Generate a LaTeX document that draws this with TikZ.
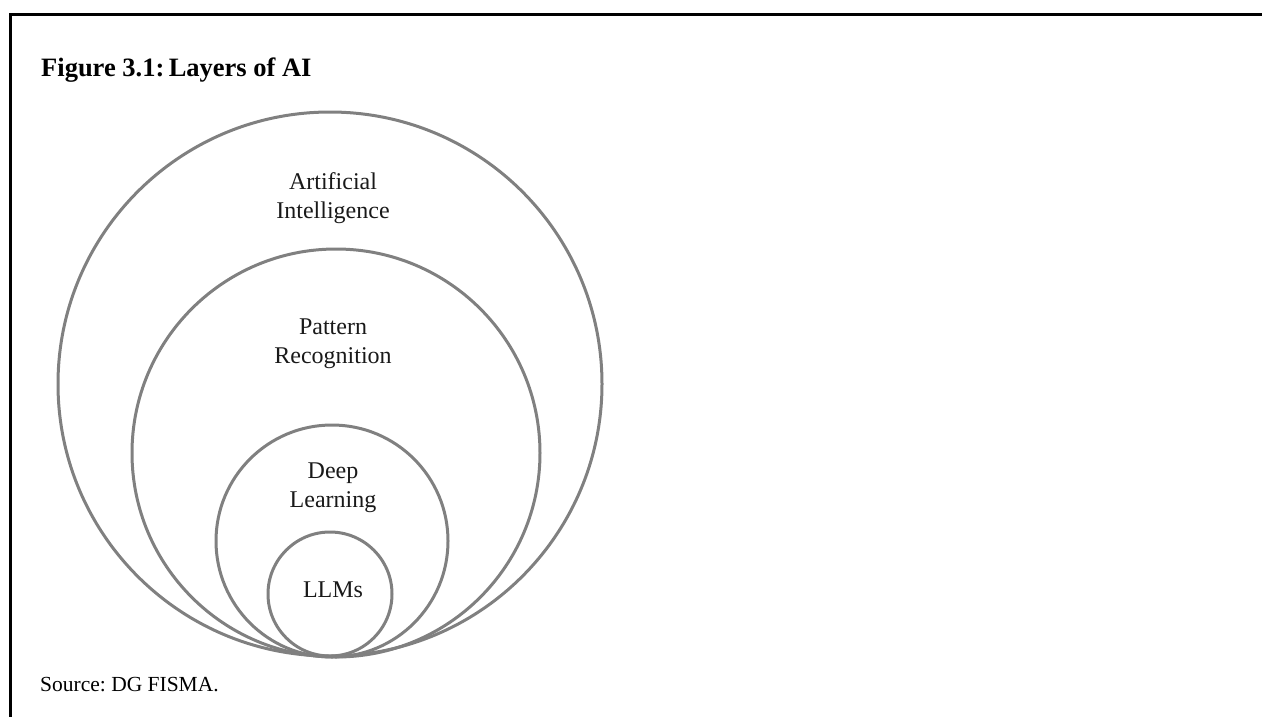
\documentclass[tikz,border=0pt]{standalone}
\usepackage{fontspec}
\setmainfont{Liberation Serif}
\usetikzlibrary{calc}

\begin{document}
\begin{tikzpicture}[x=1pt,y=-1pt,
		ring/.style={draw=black!50,line width=3pt},
		layer/.style={align=center,font=\fontsize{24}{29}\selectfont,text=black!90,inner sep=0pt}]
		\useasboundingbox (0,0) rectangle (1262,716);
		% frame
		\coordinate (FT) at (1265,14);
		\coordinate (FC) at (10.5,14);
		\coordinate (FB) at (10.5,719);
		\draw[line width=3pt] (FT)--(FC)--(FB);
		% circles, all touching at the bottom
		\coordinate (AI) at (330,384);
		\coordinate (PR) at (336,453);
		\coordinate (DL) at (332,541);
		\coordinate (LL) at (330,594);
		\draw[ring] (AI) circle (272);
		\draw[ring] (PR) circle (204);
		\draw[ring] (DL) circle (116);
		\draw[ring] (LL) circle (62);
		% labels
		\node (title) at (41,76.5) [anchor=base west,inner sep=0pt,font=\fontsize{26.5}{30}\selectfont\bfseries] {Figure 3.1:\,Layers of AI};
		\node (source) at (40,691.5) [anchor=base west,inner sep=0pt,font=\fontsize{21.5}{25}\selectfont] {Source:~DG FISMA.};
		\node (ailabel) at (333,198) [layer] {Artificial\\Intelligence};
		\node (prlabel) at (333,344) [layer] {Pattern\\Recognition};
		\node (dllabel) at (333,488) [layer] {Deep\\Learning};
		\node (lllabel) at (333,590) [layer] {LLMs};
	\end{tikzpicture}
\end{document}
